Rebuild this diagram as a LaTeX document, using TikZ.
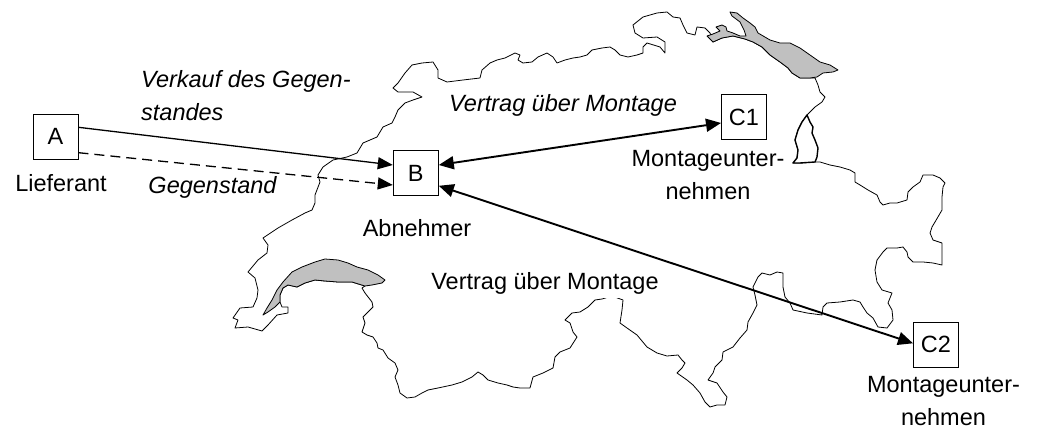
\documentclass[tikz,border=0pt]{standalone}
\usepackage{fontspec}
\setmainfont{Liberation Sans}
\usetikzlibrary{arrows.meta}
\definecolor{lakegray}{RGB}{192,192,192}
\begin{document}
\begin{tikzpicture}[x=1pt,y=-1pt,
  mapline/.style={line width=0.8pt, line join=round},
  lake/.style={mapline, fill=lakegray},
  lichten/.style={line width=1.4pt, line join=round, fill=white},
  box/.style={draw, line width=1pt, fill=white, minimum width=45pt, minimum height=45pt, inner sep=0pt, font=\fontsize{23.5}{28}\selectfont},
  lbl/.style={inner sep=0pt, font=\fontsize{23.5}{33}\selectfont},
  ilbl/.style={inner sep=0pt, font=\fontsize{23.5}{33}\selectfont\itshape},
  thinarrow/.style={line width=1.3pt, -{Triangle[length=15pt,width=12pt]}},
  dasharrow/.style={line width=1.3pt, dash pattern=on 10pt off 6pt, -{Triangle[length=15pt,width=12pt]}},
  botharrow/.style={line width=1.9pt, {Triangle[length=15pt,width=13pt]}-{Triangle[length=15pt,width=13pt]}}
]
\useasboundingbox (0,0) rectangle (1037,430);

% Switzerland outline
\draw[mapline] plot coordinates {
(412,65) (422,63) (433,62) (438,70) (438,78) (447,82) (463,80) (480,78) (482,70) (490,63) (497,60) (505,58) (515,53) (520,55) (518,60) (523,63) (532,62) (538,57) (547,53) (553,57) (557,63) (565,60) (573,58) (580,57) (587,55) (592,50) (602,48) (610,47) (615,50) (620,55) (628,57) (637,55) (643,53) (643,47) (647,43) (660,47) (665,53) (665,42) (657,37) (643,38) (635,33) (633,25) (643,17) (657,13) (667,12) (673,17) (680,18) (683,25) (687,33) (695,35) (697,27) (705,28) (710,33) (713,42)
(722,38) (733,36) (745,39) (753,42) (762,47) (770,55) (780,62) (788,68) (792,73) (800,78) (810,78) (815,78)
(818,85) (820,92) (825,97) (822,102) (815,107) (807,115)
(802,122) (798,130) (795,140) (798,150) (797,158) (793,163) (800,163) (815,162)
(820,162) (830,165) (840,167) (850,170) (855,173) (855,182) (860,185) (868,190) (877,195) (880,202) (883,205) (890,203) (897,203) (907,200) (908,192) (913,187) (920,182) (923,175) (933,175) (940,178) (945,183) (943,187) (942,197) (942,210) (935,222) (932,227) (930,233) (933,240) (942,243) (942,253) (942,265) (933,263) (923,262) (913,262) (908,257) (907,252) (903,247) (897,248) (887,248) (883,252) (877,260) (875,270) (877,282) (882,290) (892,293) (888,303) (892,310) (893,320) (887,328) (878,327) (873,318) (867,313) (863,307) (860,302) (853,300) (840,302) (827,303) (823,307) (822,315) (807,313) (793,310) (790,303) (785,297) (783,287) (783,273) (777,272) (770,275) (762,273) (758,277) (753,287) (755,295) (757,305) (753,313) (748,322) (747,330) (740,338) (733,347) (723,352) (722,360) (715,367) (713,373) (708,380) (717,383) (723,392) (727,397) (725,405) (717,405) (710,407) (705,402) (700,393) (693,385) (687,380) (677,373) (682,368) (685,363) (682,360) (678,355) (667,356) (657,353) (647,347) (637,335) (627,328) (620,323) (622,310) (623,300) (612,296) (602,299) (595,300) (588,307) (580,312) (572,313) (565,320) (570,323) (573,332) (577,337) (570,348) (560,352) (555,357) (553,368) (543,373) (533,377) (530,388) (520,388) (513,387) (507,385) (498,383) (488,380) (483,375) (478,372) (472,377) (462,382) (452,385) (438,388) (428,390) (422,393) (415,397) (407,398) (400,393) (398,385) (395,377) (398,370) (395,363) (388,358) (383,350) (378,348) (377,343) (373,337) (367,335) (362,332) (365,323) (363,317) (368,312) (373,307) (372,302) (365,293) (362,288) (365,286)
(352,282) (338,282) (325,281) (315,280) (305,283) (297,287) (288,285) (283,288) (280,295) (280,302) (282,307) (288,307) (288,313) (277,315) (268,325) (262,331) (248,327) (235,328) (238,320) (233,318) (240,308) (253,307) (257,298) (258,290) (255,278) (248,272) (258,260) (267,253) (268,245) (263,238) (278,228) (292,220) (305,213) (312,210) (315,203) (315,195) (320,182) (318,175) (323,167) (333,160) (347,157) (357,153) (363,143) (377,137) (383,127) (392,123) (395,117) (398,110) (405,103) (413,100) (422,97) (413,92) (398,92) (393,88) (398,83) (405,73)
} -- cycle;

% Lake Geneva
\filldraw[lake] plot coordinates {
(263,315) (267,308) (272,300) (277,290) (283,282) (292,272) (302,267) (315,262) (325,259) (338,260) (348,263) (357,267) (368,270) (378,275) (385,280) (382,283) (372,285) (365,286) (352,282) (338,282) (325,281) (315,280) (305,283) (297,287) (288,285) (283,288) (280,295) (280,302) (275,307) (268,312)
} -- cycle;

% Lake Constance
\filldraw[lake] plot coordinates {
(707,36) (713,42) (722,38) (733,36) (745,39) (753,42) (762,47) (770,55) (780,62) (788,68) (792,73) (800,78) (810,78) (817,77) (823,73) (833,72) (838,70) (830,65) (820,62) (810,55) (800,48) (790,43) (780,43) (770,40) (758,33) (755,27) (750,23) (743,18) (737,13) (730,12) (732,16) (740,22) (744,30) (746,36) (740,36) (733,33) (727,31) (726,27) (722,25) (716,27) (720,31) (713,34)
} -- cycle;

% Liechtenstein
\filldraw[lichten] plot coordinates {
(807,115) (810,122) (813,127) (812,133) (815,140) (818,148) (817,157) (815,162) (800,163) (793,163) (797,158) (798,150) (795,140) (798,130) (802,122)
} -- cycle;

% labels (base anchor of a two-line node = baseline of its last line)
\node[lbl, anchor=base] (lief) at (61,191.5) {Lieferant};
\node[ilbl, anchor=base west, align=left] (verk) at (141,120.7) {Verkauf des Gegen-\\standes};
\node[ilbl, anchor=base] (geg) at (212.5,193.5) {Gegenstand};
\node[ilbl, anchor=base] (vm1) at (563,112) {Vertrag über Montage};
\node[lbl, anchor=base, fill=white, inner sep=3pt] (vm2) at (545,290) {Vertrag über Montage};
\node[lbl, anchor=base] (abn) at (417,236.5) {Abnehmer};
\node[lbl, anchor=base, align=center] (mu1) at (708,200) {Montageunter-\\nehmen};
\node[lbl, anchor=base, align=center] (mu2) at (943.5,426) {Montageunter-\\nehmen};

% boxes
\node[box] (A) at (55.5,136.7) {A};
\node[box] (B) at (415.8,173.3) {B};
\node[box] (C1) at (744,117.5) {C1};
\node[box] (C2) at (936,344.7) {C2};

% connectors
\draw[thinarrow] ([yshift=9.4pt]A.east) -- ([yshift=8.3pt]B.west);
\draw[dasharrow] ([yshift=-16pt]A.east) -- ([yshift=-11.7pt]B.west);
\draw[botharrow] ([yshift=8.3pt]B.east) -- ([yshift=-5.5pt]C1.west);
\draw[botharrow] ([yshift=-12.5pt]B.east) -- ([yshift=1.4pt]C2.west);
\end{tikzpicture}
\end{document}
